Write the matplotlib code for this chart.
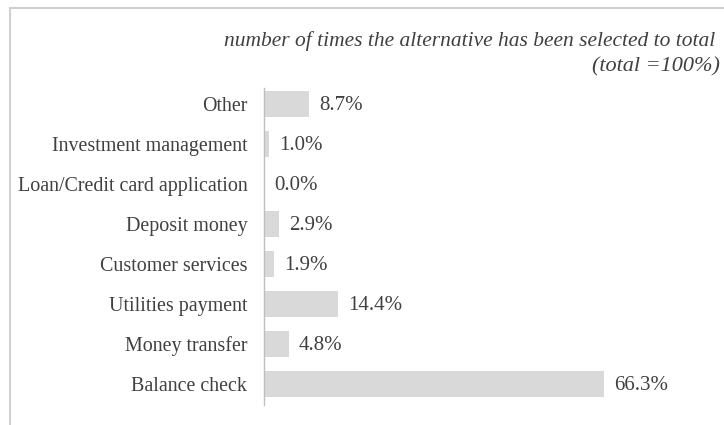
#!/usr/bin/env python3

import matplotlib
matplotlib.use("Agg")
import matplotlib.pyplot as plt
from matplotlib.patches import Rectangle

categories = ["Balance check", "Money transfer", "Utilities payment", "Customer services",
              "Deposit money", "Loan/Credit card application", "Investment management", "Other"]
shares = [66.3, 4.8, 14.4, 1.9, 2.9, 0.0, 1.0, 8.7]

title_line1 = "number of times the alternative has been selected to total"
title_line2 = "(total =100%)"

plt.rcParams["font.family"] = ["Liberation Serif", "DejaVu Serif"]

W, H = 724, 425
fig = plt.figure(figsize=(W / 100, H / 100), dpi=100)

# axes placement in pixels
left, right = 264, 674
bottom, top = 20, 337
ax = fig.add_axes([left / W, bottom / H, (right - left) / W, (top - bottom) / H])

pos = list(range(len(categories)))
ax.barh(pos, shares, height=0.65, color="#d9d9d9")
ax.set_xlim(0, 80)
ax.set_ylim(-0.525, 7.4)
ax.set_yticks(pos)
ax.set_yticklabels(categories, fontsize=14.4, color="#404040")
ax.tick_params(axis="y", length=0, pad=12)
ax.set_xticks([])

for p, v in zip(pos, shares):
    ax.annotate(f"{v:.1f}%", (v, p), xytext=(7.5, -1), textcoords="offset points",
                va="center", ha="left", fontsize=15, color="#404040")

for s in ["top", "right", "bottom"]:
    ax.spines[s].set_visible(False)
ax.spines["left"].set_color("#bfbfbf")
ax.spines["left"].set_linewidth(1.0)

# two-line italic title, kept just inside the right edge
fig.text(224 / W, 1 - 41 / H, title_line1, ha="left", va="center",
         fontsize=15.5, style="italic", color="#404040")
fig.text(720 / W, 1 - 67 / H, title_line2, ha="right", va="center",
         fontsize=16, style="italic", color="#404040")

# outer chart frame
fig.patches.append(Rectangle((10 / W, -0.1), 1.2, 1 - 8 / H + 0.1, transform=fig.transFigure,
                             fill=False, edgecolor="#d0d0d0", linewidth=1.5))

fig.savefig("out.png", dpi=100)
